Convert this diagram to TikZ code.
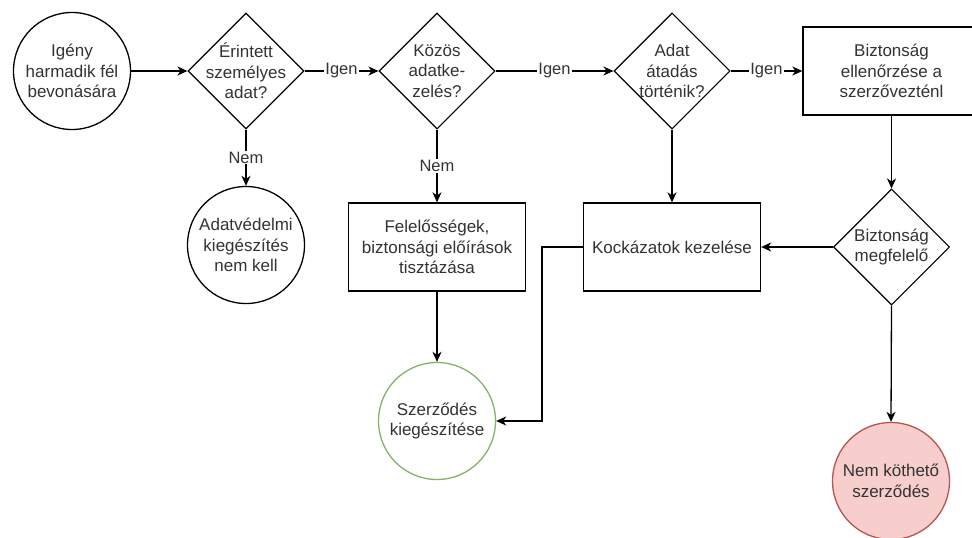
\documentclass[tikz,border=0pt]{standalone}
\usepackage{fontspec}
\setmainfont{Liberation Sans}
\usetikzlibrary{shapes.geometric,arrows.meta}
\definecolor{txt}{HTML}{333333}
\definecolor{grn}{HTML}{82B366}
\definecolor{redf}{HTML}{F8CECC}
\definecolor{redd}{HTML}{B85450}
\begin{document}
\begin{tikzpicture}[x=1pt,y=-1pt,
  every node/.style={font=\fontsize{17}{20.5}\selectfont, text=txt, align=center},
  circ/.style={circle, draw, line width=1.3pt, minimum size=117pt, inner sep=0pt},
  dia/.style={diamond, draw, line width=1.1pt, minimum width=116pt, minimum height=116pt, inner sep=0pt},
  box/.style={rectangle, draw, line width=1.3pt, minimum width=177pt, minimum height=88pt, inner sep=0pt},
  arr/.style={draw, line width=1.3pt, -{Stealth[length=10pt,width=9pt,inset=3pt]}},
  lab/.style={fill=white, inner sep=1pt, font=\fontsize{16.5}{20}\selectfont}]
\useasboundingbox (0,0) rectangle (972,538);
\fill[white] (0,0) rectangle (972,538);
\begin{scope}
\clip (0,0) rectangle (972,538);
% nodes
\node[circ] (c1) at (72,71) {Igény\\harmadik fél\\bevonására};
\node[dia, label={[align=center]center:Érintett\\személyes\\adat?}] (d1) at (246,71) {};
\node[dia, label={[align=center]center:Közös\\adatke-\\zelés?}] (d2) at (437,71) {};
\node[dia, label={[align=center]center:Adat\\átadás\\történik?}] (d3) at (672,71) {};
\node[box] (r1) at (891.5,71) {Biztonság\\ellenőrzése a\\szerzővezténl};
\node[circ] (c2) at (246,245) {Adatvédelmi\\kiegészítés\\nem kell};
\node[box] (r2) at (437,247) {Felelősségek,\\biztonsági előírások\\tisztázása};
\node[box] (r3) at (672,247) {Kockázatok kezelése};
\node[dia, label={[align=center]center:Biztonság\\megfelelő}] (d4) at (891.5,247) {};
\node[circ, draw=grn] (c3) at (437,421) {Szerződés\\kiegészítése};
\node[circ, draw=redd, fill=redf] (c4) at (891,481) {Nem köthető\\szerződés};
\coordinate (k) at (542,247);
% connectors
\draw[arr] (c1.east) -- (d1.west);
\draw[arr] (d1.east) -- node[lab] (l1) {Igen} (d2.west);
\draw[arr] (d2.east) -- node[lab] (l2) {Igen} (d3.west);
\draw[arr] (d3.east) -- node[lab] (l3) {Igen} (r1.west);
\draw[arr] (d1.south) -- node[lab] (l4) {Nem} (c2.north);
\draw[arr] (d2.south) -- node[lab] (l5) {Nem} (r2.north);
\draw[arr] (d3.south) -- (r3.north);
\draw[arr] (r1.south) -- (d4.north);
\draw[arr] (d4.west) -- (r3.east);
\draw[arr] (d4.south) -- (c4.north);
\draw[arr] (r2.south) -- (c3.north);
\draw[arr] (r3.west) -- (k) |- (c3.east);
\end{scope}
\end{tikzpicture}
\end{document}
